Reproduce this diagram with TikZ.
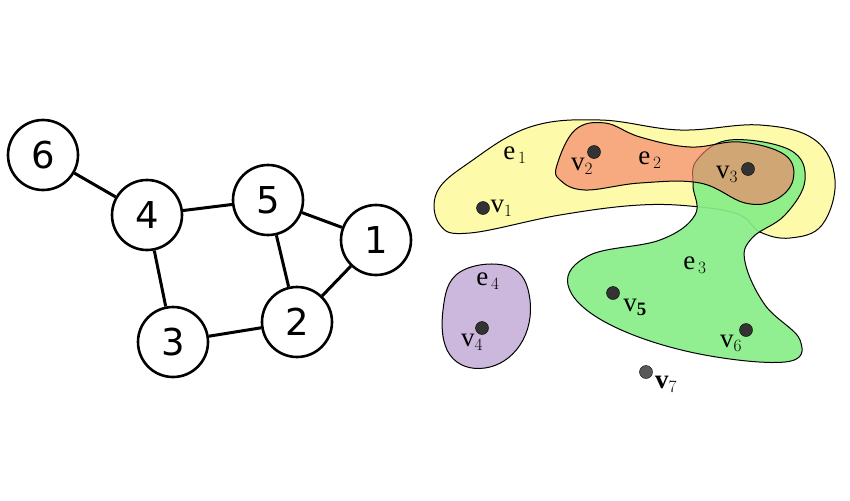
\documentclass[tikz,border=0pt]{standalone}
\usepackage{fontspec}
\setmainfont{Liberation Serif}
\newfontfamily\numfont{DejaVu Sans}
\usetikzlibrary{positioning}
\definecolor{eyellow}{HTML}{FDFBAA}
\definecolor{ered}{HTML}{F4806A}
\definecolor{egreen}{HTML}{88EE88}
\definecolor{epurple}{HTML}{CCB8DC}
\tikzset{
  gnode/.style={circle, draw, line width=2.6pt, fill=white, minimum size=70pt, inner sep=0pt, font=\numfont\fontsize{37}{37}\selectfont},
  gedge/.style={line width=3pt},
  hedge/.style={draw, line width=1pt},
  vdot/.style={circle, draw=black, fill=black!80, minimum size=13pt, inner sep=0pt},
  hlabel/.style={inner sep=0.75pt, font=\fontsize{27}{27}\selectfont},
}
\begin{document}
\begin{tikzpicture}[x=1pt, y=1pt, yscale=-1, xscale=1]
\useasboundingbox (0,0) rectangle (850,500);
% graph
\node[gnode] (n6) at (43,155) {6};
\node[gnode] (n4) at (147,215) {4};
\node[gnode] (n5) at (268,200) {5};
\node[gnode] (n1) at (376,240) {1};
\node[gnode] (n2) at (297,322) {2};
\node[gnode] (n3) at (173,342) {3};
\foreach \a/\b in {n6/n4, n4/n5, n4/n3, n5/n1, n5/n2, n1/n2, n3/n2}
  \draw[gedge] (\a) -- (\b);
% hyperedges
\draw[hedge, fill=eyellow] plot[smooth cycle, tension=0.65] coordinates {(437,192) (470,162) (530,127) (600,120) (680,130) (760,125) (815,140) (835,180) (822,225) (790,238) (760,232) (740,215) (700,207) (640,205) (560,215) (470,233) (440,225)};
\draw[hedge, fill=egreen, fill opacity=0.92] plot[smooth cycle, tension=0.65] coordinates {(697,160) (730,140) (790,150) (805,180) (785,215) (752,238) (745,262) (765,305) (800,340) (785,362) (690,352) (605,322) (568,285) (590,255) (660,240) (695,215) (693,185)};
\draw[hedge, fill=ered, fill opacity=0.65] plot[smooth cycle, tension=0.65] coordinates {(557,165) (575,130) (605,123) (640,137) (690,147) (740,142) (785,155) (793,180) (775,200) (745,203) (700,183) (640,183) (585,190) (560,180)};
\draw[hedge, fill=epurple] plot[smooth cycle, tension=0.7] coordinates {(460,272) (510,267) (530,300) (520,345) (485,368) (450,355) (443,310)};
% vertices
\node[vdot] (v1) at (483,208) {};
\node[vdot] (v2) at (594,152) {};
\node[vdot] (v3) at (748,169) {};
\node[vdot] (v4) at (482,328) {};
\node[vdot] (v5) at (613,293) {};
\node[vdot] (v6) at (746,330) {};
\node[vdot, fill=black!65] (v7) at (646,372) {};
%Text
\node[hlabel] at (515,155) {e$_{\,1}$};
\node[hlabel] at (650,160) {e$_{\,2}$};
\node[hlabel] at (695,265) {e$_{\,3}$};
\node[hlabel] at (488,281) {e$_{\,4}$};
\node[hlabel, right=0pt of v1] {v$_1$};
\node[hlabel] at (582,166) {v$_2$};
\node[hlabel] at (727,174) {v$_3$};
\node[hlabel] at (472,342) {v$_4$};
\node[hlabel] at (635,307) {v$_{\mathbf 5}$};
\node[hlabel] at (731,343) {v$_6$};
\node[hlabel] at (666,384) {\textbf{v}$_7$};
\end{tikzpicture}
\end{document}
